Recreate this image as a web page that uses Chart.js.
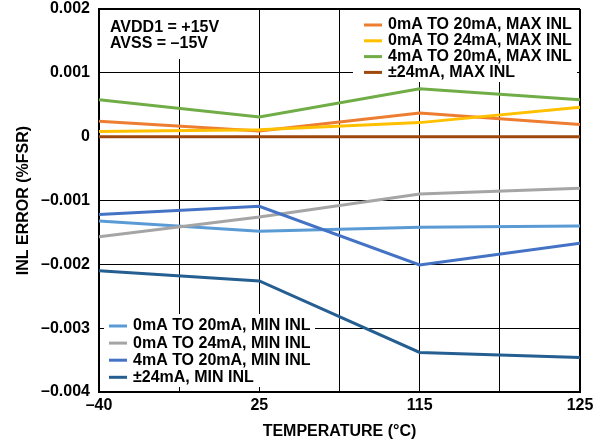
<!DOCTYPE html>
<html>
<head>
<meta charset="utf-8">
<script src="https://cdn.jsdelivr.net/npm/chart.js@4"></script>
<style>
  html, body { margin: 0; padding: 0; background: #fff; }
</style>
</head>
<body>
<canvas id="inlChart" width="603" height="445"></canvas>
<script>
// Values (INL error, %FSR)
const temps = ['–40', '25', '115', '125'];
const yTickLabels = ['–0.004', '–0.003', '–0.002', '–0.001', '0', '0.001', '0.002'];
const note = ['AVDD1 = +15V', 'AVSS = –15V'];

const seriesLabels = [
  '0mA TO 20mA, MAX INL', '0mA TO 24mA, MAX INL', '4mA TO 20mA, MAX INL', '±24mA, MAX INL',
  '0mA TO 20mA, MIN INL', '0mA TO 24mA, MIN INL', '4mA TO 20mA, MIN INL', '±24mA, MIN INL'
];
const maxInl0to20 = [0.00024, 0.00009, 0.00037, 0.00019];
const maxInl0to24 = [0.00008, 0.00011, 0.00022, 0.00046];
const maxInl4to20 = [0.00058, 0.00031, 0.00075, 0.00058];
const maxInlPm24 = [0, 0, 0, 0];
const minInl0to20 = [-0.00132, -0.00148, -0.00142, -0.0014];
const minInl0to24 = [-0.00157, -0.00126, -0.0009, -0.00081];
const minInl4to20 = [-0.00122, -0.00109, -0.00201, -0.00167];
const minInlPm24 = [-0.0021, -0.00226, -0.00338, -0.00346];

const values = [maxInl0to20, maxInl0to24, maxInl4to20, maxInlPm24,
                minInl0to20, minInl0to24, minInl4to20, minInlPm24];
const colors = ['#ED7D31', '#FFC000', '#70AD47', '#9E480E',
                '#5B9BD5', '#A5A5A5', '#4472C4', '#255E91'];

const FONT = '"Liberation Sans", Arial, sans-serif';

// legends + supply note drawn in white boxes over the grid
const boxes = {
  id: 'boxes',
  afterDraw(chart) {
    const { ctx, chartArea: a } = chart;
    const ds = chart.data.datasets;
    ctx.save();
    ctx.fillStyle = '#fff';
    ctx.fillRect(a.left + 2, a.top + 1, 128, 49);
    ctx.fillRect(a.right - 227, a.top + 1, 224, 72);
    ctx.fillRect(a.left + 5, a.bottom - 78, 211, 73);
    ctx.font = 'bold 16px ' + FONT;
    ctx.fillStyle = '#000';
    ctx.textBaseline = 'middle';
    note.forEach((t, i) => ctx.fillText(t, a.left + 11, a.top + 19 + i * 16));
    const entry = (d, x, y) => {
      ctx.strokeStyle = d.borderColor;
      ctx.lineWidth = 3;
      ctx.beginPath();
      ctx.moveTo(x, y);
      ctx.lineTo(x + 18, y);
      ctx.stroke();
      ctx.fillStyle = '#000';
      ctx.fillText(d.label, x + 24, y);
    };
    ds.slice(0, 4).forEach((d, i) => entry(d, a.right - 216, a.top + 16 + i * 15.8));
    ds.slice(4).forEach((d, i) => entry(d, a.left + 10, a.bottom - 66 + i * 17.1));
    ctx.restore();
  }
};

new Chart(document.getElementById('inlChart'), {
  type: 'line',
  data: {
    datasets: values.map((v, i) => ({
      label: seriesLabels[i],
      data: v.map((y, k) => ({ x: k, y: y })),
      borderColor: colors[i],
      backgroundColor: colors[i],
      borderWidth: 3,
      pointRadius: 0,
      tension: 0,
      order: values.length - i
    }))
  },
  options: {
    responsive: false,
    animation: false,
    layout: { padding: { top: 9, right: 23, left: 0, bottom: 0 } },
    plugins: { legend: { display: false }, tooltip: { enabled: false } },
    scales: {
      x: {
        type: 'linear',
        min: 0,
        max: temps.length - 1,
        afterFit: s => { s.height = 53; s.paddingLeft = 0; s.paddingRight = 0; },
        afterBuildTicks: s => {
          s.ticks = [0, 0.5, 1, 1.5, 2, 2.5, 3].map(v => ({ value: v }));
        },
        ticks: {
          autoSkip: false,
          maxRotation: 0,
          padding: 6,
          color: '#000',
          font: { family: FONT, size: 16, weight: 'bold', lineHeight: 1 },
          callback: (v, i) => (i % 2 === 0 ? temps[i / 2] : '')
        },
        grid: {
          color: '#000',
          lineWidth: c => (c.index === 6 ? 2 : 1),
          drawTicks: false
        },
        border: { display: true, color: '#000', width: 2 },
        title: {
          display: true,
          text: 'TEMPERATURE (°C)',
          color: '#000',
          padding: { top: 0, bottom: 4 },
          font: { family: FONT, size: 16, weight: 'bold' }
        }
      },
      y: {
        min: -0.004,
        max: 0.002,
        afterFit: s => { s.width = 99; s.paddingTop = 0; s.paddingBottom = 0; },
        ticks: {
          stepSize: 0.001,
          padding: 9,
          color: '#000',
          font: { family: FONT, size: 16, weight: 'bold', lineHeight: 1 },
          callback: (v, i) => yTickLabels[i]
        },
        grid: {
          color: '#000',
          lineWidth: c => (c.index === 6 ? 2 : 1),
          drawTicks: false
        },
        border: { display: true, color: '#000', width: 2 },
        title: {
          display: true,
          text: 'INL ERROR (%FSR)',
          color: '#000',
          padding: { top: 14, bottom: 0 },
          font: { family: FONT, size: 16, weight: 'bold' }
        }
      }
    }
  },
  plugins: [boxes]
});
</script>
</body>
</html>
